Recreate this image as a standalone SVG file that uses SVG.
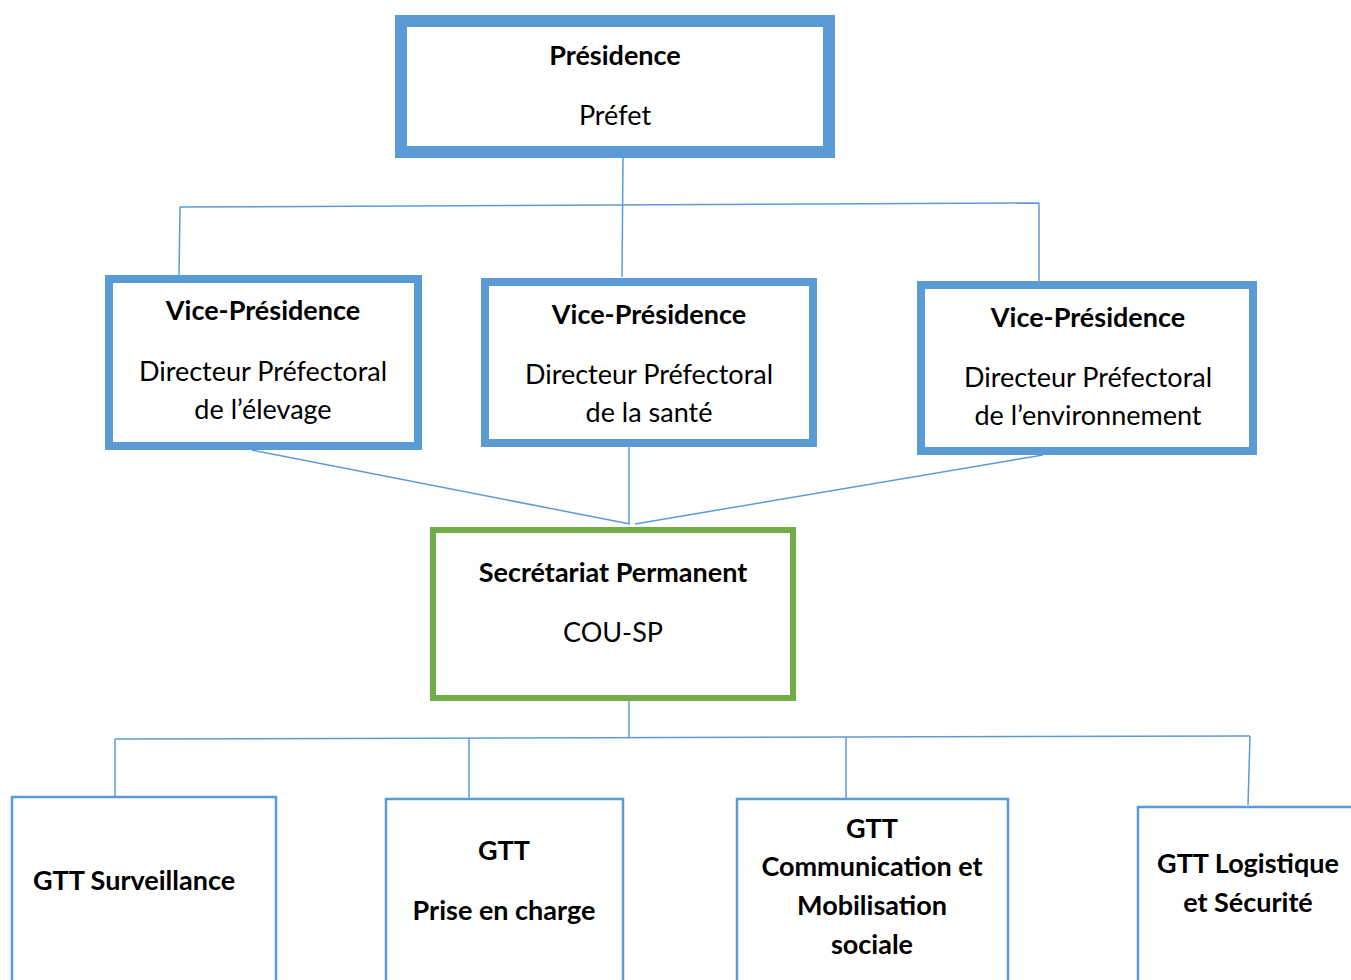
<svg xmlns="http://www.w3.org/2000/svg" width="1351" height="980" viewBox="0 0 1351 980">
<style>
text{font-family:Lato,"Open Sans","Noto Sans",sans-serif;fill:#000;text-anchor:middle}
.b{font-weight:bold;font-size:27px}
.r{font-size:27px}
.blue{fill:#fff;stroke:#5B9BD5}
.green{fill:#fff;stroke:#70AD47}
.ln{stroke:#5B9BD5;stroke-width:1.5;fill:none}
</style>
<rect width="1351" height="980" fill="#fff"/>
<g id="connectors">
<path class="ln" d="M623 158 L622 277"/>
<path class="ln" d="M180 207 L1039 203"/>
<path class="ln" d="M180 207 L179 276"/>
<path class="ln" d="M1039 203 L1039 282"/>
<path class="ln" d="M252 450 L630 524"/>
<path class="ln" d="M629 447 L629 524"/>
<path class="ln" d="M1043 455 L635 524"/>
<path class="ln" d="M629 701 L629 737"/>
<path class="ln" d="M115 739 L1250 736"/>
<path class="ln" d="M115 739 L115 796"/>
<path class="ln" d="M469 738 L469 798"/>
<path class="ln" d="M846 737 L846 798"/>
<path class="ln" d="M1250 736 L1248 805"/>
</g>
<g id="presidence">
<rect class="blue" x="401" y="21" width="428" height="131" stroke-width="12"/>
<text class="b" x="615" y="65">Présidence</text>
<text class="r" x="615" y="125">Préfet</text>
</g>
<g id="vp-elevage">
<rect class="blue" x="109" y="279" width="309" height="167" stroke-width="8"/>
<text class="b" x="263" y="320">Vice-Présidence</text>
<text class="r" x="263" y="381">Directeur Préfectoral</text>
<text class="r" x="263" y="419">de l’élevage</text>
</g>
<g id="vp-sante">
<rect class="blue" x="485" y="282" width="328" height="161" stroke-width="8"/>
<text class="b" x="649" y="324">Vice-Présidence</text>
<text class="r" x="649" y="384">Directeur Préfectoral</text>
<text class="r" x="649" y="422">de la santé</text>
</g>
<g id="vp-environnement">
<rect class="blue" x="921" y="285" width="332" height="166" stroke-width="8"/>
<text class="b" x="1088" y="327">Vice-Présidence</text>
<text class="r" x="1088" y="387">Directeur Préfectoral</text>
<text class="r" x="1088" y="425">de l’environnement</text>
</g>
<g id="secretariat">
<rect class="green" x="433" y="530" width="360" height="168" stroke-width="6"/>
<text class="b" x="613" y="582">Secrétariat Permanent</text>
<text class="r" x="613" y="642">COU-SP</text>
</g>
<g id="gtt-surveillance">
<rect class="blue" x="12" y="797" width="264" height="200" stroke-width="2.5"/>
<text class="b" x="134" y="890">GTT Surveillance</text>
</g>
<g id="gtt-prise">
<rect class="blue" x="386" y="799" width="237" height="200" stroke-width="2.5"/>
<text class="b" x="504" y="860">GTT</text>
<text class="b" x="504" y="920">Prise en charge</text>
</g>
<g id="gtt-communication">
<rect class="blue" x="737" y="799" width="271" height="200" stroke-width="2.5"/>
<text class="b" x="872" y="838">GTT</text>
<text class="b" x="872" y="876">Communication et</text>
<text class="b" x="872" y="915">Mobilisation</text>
<text class="b" x="872" y="954">sociale</text>
</g>
<g id="gtt-logistique">
<rect class="blue" x="1138" y="807" width="230" height="200" stroke-width="2.5"/>
<text class="b" x="1248" y="873">GTT Logistique</text>
<text class="b" x="1248" y="912">et Sécurité</text>
</g>
</svg>
